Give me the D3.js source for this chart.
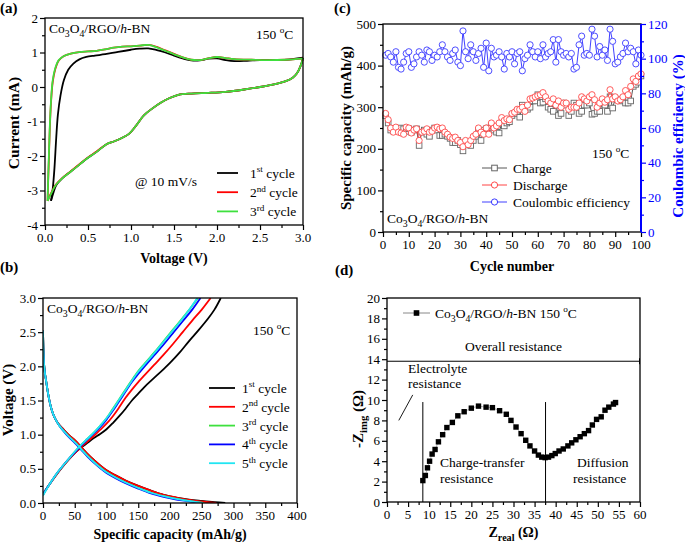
<!DOCTYPE html>
<html><head><meta charset="utf-8">
<script src="https://cdn.jsdelivr.net/npm/d3@7"></script>
<style>
body{margin:0;background:#fff;}
svg text{font-family:"Liberation Serif","Times New Roman",serif;}
</style></head><body>
<svg id="chart" width="685" height="545"></svg>
<script>
// ---------------- DATA ----------------
// (a) cyclic voltammetry  [voltage V, current mA]
const cv1Anodic = [[0.07,-3.3],[0.09,-2.95],[0.11,-2.35],[0.13,-1.5],[0.15,-0.8],[0.18,-0.25],[0.22,0.2],[0.27,0.5],[0.33,0.68],[0.4,0.8],[0.48,0.87],[0.58,0.91],[0.7,0.95],[0.85,1.02],[1.0,1.08],[1.1,1.11],[1.2,1.12],[1.3,1.07],[1.4,1.0],[1.5,0.91],[1.6,0.83],[1.7,0.77],[1.8,0.77],[1.9,0.82],[2.0,0.83],[2.1,0.78],[2.2,0.75],[2.35,0.76],[2.5,0.78],[2.7,0.78],[2.85,0.8],[3.0,0.85]];
const cv2Anodic = [[0.03,-3.3],[0.036,-2.8],[0.046,-2.0],[0.056,-1.2],[0.07,-0.45],[0.09,0.15],[0.12,0.52],[0.16,0.77],[0.22,0.9],[0.3,0.97],[0.4,1.01],[0.5,1.03],[0.6,1.05],[0.7,1.09],[0.8,1.14],[0.9,1.17],[1.0,1.18],[1.1,1.2],[1.2,1.22],[1.3,1.16],[1.4,1.06],[1.5,0.96],[1.6,0.86],[1.7,0.79],[1.8,0.78],[1.9,0.83],[2.0,0.87],[2.1,0.84],[2.2,0.81],[2.4,0.79],[2.6,0.78],[2.8,0.79],[3.0,0.82]];
const cv3Anodic = [[0.03,-3.3],[0.035,-2.8],[0.045,-2.0],[0.055,-1.2],[0.07,-0.4],[0.09,0.2],[0.12,0.55],[0.16,0.78],[0.22,0.9],[0.3,0.97],[0.4,1.01],[0.5,1.03],[0.6,1.05],[0.7,1.09],[0.8,1.14],[0.9,1.17],[1.0,1.18],[1.1,1.2],[1.2,1.22],[1.3,1.15],[1.4,1.05],[1.5,0.95],[1.6,0.86],[1.7,0.79],[1.8,0.78],[1.9,0.83],[2.0,0.87],[2.1,0.84],[2.2,0.81],[2.4,0.79],[2.6,0.78],[2.8,0.79],[3.0,0.82]];
const cv1Cathodic = [[3.0,0.85],[2.97,0.6],[2.93,0.4],[2.88,0.27],[2.8,0.17],[2.7,0.1],[2.5,0.0],[2.3,-0.08],[2.1,-0.14],[1.9,-0.17],[1.7,-0.19],[1.55,-0.23],[1.45,-0.32],[1.35,-0.45],[1.25,-0.62],[1.15,-0.82],[1.05,-1.15],[0.98,-1.35],[0.9,-1.47],[0.8,-1.58],[0.72,-1.65],[0.6,-1.88],[0.5,-2.05],[0.4,-2.25],[0.3,-2.45],[0.2,-2.65],[0.13,-2.85],[0.1,-3.05],[0.07,-3.3]];
const cv2Cathodic = [[3.0,0.82],[2.97,0.6],[2.93,0.4],[2.88,0.27],[2.8,0.17],[2.7,0.1],[2.5,0.0],[2.3,-0.08],[2.1,-0.14],[1.9,-0.17],[1.7,-0.19],[1.55,-0.23],[1.45,-0.32],[1.35,-0.45],[1.25,-0.62],[1.15,-0.82],[1.05,-1.15],[0.98,-1.35],[0.9,-1.47],[0.8,-1.58],[0.72,-1.65],[0.6,-1.87],[0.5,-2.04],[0.4,-2.24],[0.3,-2.44],[0.2,-2.64],[0.12,-2.85],[0.07,-3.08],[0.03,-3.3]];
const cv3Cathodic = [[3.0,0.82],[2.97,0.6],[2.93,0.4],[2.88,0.27],[2.8,0.17],[2.7,0.1],[2.5,0.0],[2.3,-0.08],[2.1,-0.14],[1.9,-0.17],[1.7,-0.19],[1.55,-0.23],[1.45,-0.32],[1.35,-0.45],[1.25,-0.62],[1.15,-0.82],[1.05,-1.15],[0.98,-1.35],[0.9,-1.47],[0.8,-1.58],[0.72,-1.65],[0.6,-1.88],[0.5,-2.05],[0.4,-2.25],[0.3,-2.45],[0.2,-2.65],[0.12,-2.86],[0.07,-3.1],[0.03,-3.3]];
const cvCycleNames = ["1st","2nd","3rd"];
const cvColors = ["#000000","#ff0000","#3ee03e"];
const cvXTicks = [0,0.5,1.0,1.5,2.0,2.5,3.0];
const cvYTicks = [-4,-3,-2,-1,0,1,2];

// (b) galvanostatic charge/discharge  [capacity mAh/g, voltage V]
const gd1Discharge = [[0,2.52],[0.5,2.3],[1.5,2.05],[3,1.9],[5,1.78],[8,1.6],[12,1.42],[16,1.3],[20,1.22],[25,1.15],[30,1.1],[40,1.0],[50,0.92],[60,0.82],[70,0.72],[80,0.63],[90,0.55],[100,0.48],[115,0.4],[130,0.33],[150,0.25],[170,0.18],[190,0.12],[210,0.08],[230,0.05],[250,0.03],[270,0.012],[287,0]];
const gd2Discharge = [[0,2.52],[0.5,2.3],[1.5,2.05],[3,1.9],[5,1.78],[8,1.6],[12,1.42],[16,1.3],[20,1.22],[25,1.15],[30,1.1],[40,1.0],[50,0.92],[60,0.82],[70,0.72],[80,0.63],[90,0.55],[100,0.48],[115,0.4],[130,0.33],[150,0.25],[170,0.18],[190,0.12],[210,0.08],[230,0.045],[250,0.022],[265,0.008],[273,0]];
const gd3Discharge = [[0,2.52],[0.5,2.3],[1.5,2.05],[3,1.9],[5,1.78],[8,1.6],[12,1.42],[16,1.3],[20,1.22],[25,1.14],[30,1.08],[40,0.98],[50,0.89],[60,0.79],[70,0.69],[80,0.6],[90,0.52],[100,0.45],[115,0.37],[130,0.3],[150,0.22],[170,0.15],[190,0.1],[210,0.06],[230,0.03],[245,0.01],[253,0]];
const gd4Discharge = [[0,2.52],[0.5,2.3],[1.5,2.05],[3,1.9],[5,1.78],[8,1.6],[12,1.42],[16,1.3],[20,1.22],[25,1.14],[30,1.08],[40,0.97],[50,0.88],[60,0.78],[70,0.68],[80,0.59],[90,0.51],[100,0.44],[115,0.36],[130,0.29],[150,0.21],[170,0.14],[190,0.09],[210,0.05],[230,0.025],[240,0.01],[247,0]];
const gd5Discharge = [[0,2.52],[0.5,2.3],[1.5,2.05],[3,1.9],[5,1.78],[8,1.6],[12,1.42],[16,1.3],[20,1.22],[25,1.14],[30,1.08],[40,0.98],[50,0.89],[60,0.79],[70,0.69],[80,0.6],[90,0.52],[100,0.45],[115,0.37],[130,0.3],[150,0.22],[170,0.15],[190,0.1],[210,0.06],[230,0.03],[243,0.012],[252,0]];
const gd1Charge = [[0,0.13],[5,0.2],[10,0.27],[20,0.4],[30,0.52],[40,0.63],[50,0.73],[60,0.81],[70,0.88],[80,0.95],[90,1.01],[100,1.08],[110,1.17],[120,1.27],[130,1.38],[140,1.5],[150,1.6],[160,1.7],[175,1.83],[190,1.96],[200,2.05],[215,2.2],[230,2.37],[245,2.53],[260,2.7],[270,2.83],[280,3.0]];
const gd2Charge = [[0,0.12],[5,0.2],[10,0.27],[20,0.4],[30,0.52],[40,0.63],[50,0.73],[60,0.82],[70,0.9],[80,0.98],[90,1.07],[100,1.16],[110,1.27],[120,1.4],[130,1.54],[140,1.66],[150,1.77],[160,1.87],[175,2.02],[190,2.17],[205,2.33],[220,2.5],[235,2.67],[250,2.83],[264,3.0]];
const gd3Charge = [[0,0.12],[5,0.2],[10,0.27],[20,0.41],[30,0.53],[40,0.64],[50,0.75],[60,0.85],[70,0.94],[80,1.03],[90,1.13],[100,1.24],[110,1.38],[120,1.52],[130,1.66],[140,1.8],[150,1.93],[160,2.04],[175,2.2],[190,2.37],[205,2.54],[220,2.71],[232,2.85],[244,3.0]];
const gd4Charge = [[0,0.12],[5,0.2],[10,0.27],[20,0.41],[30,0.53],[40,0.64],[50,0.74],[60,0.84],[70,0.93],[80,1.02],[90,1.11],[100,1.22],[110,1.35],[120,1.49],[130,1.63],[140,1.77],[150,1.89],[160,2.0],[175,2.16],[190,2.32],[205,2.49],[220,2.66],[235,2.83],[248,3.0]];
const gd5Charge = [[0,0.11],[5,0.19],[10,0.27],[20,0.41],[30,0.53],[40,0.64],[50,0.75],[60,0.85],[70,0.94],[80,1.03],[90,1.13],[100,1.24],[110,1.37],[120,1.51],[130,1.65],[140,1.79],[150,1.92],[160,2.03],[175,2.19],[190,2.36],[205,2.53],[220,2.7],[232,2.85],[243,3.0]];
const gdCycleNames = ["1st","2nd","3rd","4th","5th"];
const gdColors = ["#000000","#ff0000","#3ee03e","#0000ff","#22e5f2"];
const gdXTicks = [0,50,100,150,200,250,300,350,400];
const gdYTicks = [0,0.5,1.0,1.5,2.0,2.5,3.0];

// (c) cycling performance
const cycleNumbers = d3.range(1, 101);
const chargeCapacity = [280,262,245,243,248,245,250,248,242,248, 240,245,248,208,240,245,235,230,245,250, 245,232,232,235,230,225,215,215,220,210, 195,215,210,208,220,230,240,220,245,248, 250,255,245,240,238,262,255,262,265,280, 285,290,276,305,295,295,300,315,315,330, 310,312,320,300,295,290,305,280,285,310, 305,280,290,310,305,285,290,305,305,310, 283,285,290,290,310,305,290,325,298,320, 318,315,320,310,310,315,350,355,360,375];
const dischargeCapacity = [285,270,250,240,252,240,238,235,252,250, 238,245,248,220,240,242,248,240,242,250, 252,248,250,240,235,228,225,228,220,215, 205,220,210,220,230,235,250,240,235,250, 235,262,250,255,262,275,268,272,270,285, 288,295,295,300,290,305,320,322,325,328, 330,335,325,315,310,320,305,315,300,310, 310,295,300,300,300,310,325,320,315,325, 330,318,300,310,320,312,318,342,320,325, 315,318,325,340,330,350,368,362,375,380];
const coulombicEfficiency = [102,103,101,98,104,95,94,98,103,104, 95,97,101,104,102,98,105,104,99,102, 101,104,108,104,101,99,103,105,98,96, 116,104,100,108,104,99,103,106,95,109, 93,106,101,102,104,101,94,103,101,104, 97,103,104,93,100,102,108,104,101,104, 100,108,101,103,104,111,98,111,104,102, 103,101,103,94,95,108,113,102,103,102, 117,113,101,107,102,105,99,117,110,97, 98,101,103,109,104,106,104,97,105,102];
const cycXTicks = [0,10,20,30,40,50,60,70,80,90,100];
const capYTicks = [0,100,200,300,400,500];
const ceYTicks = [0,20,40,60,80,100,120];

// (d) Nyquist plot
const zReal = [8.5,9.1,9.6,10.1,10.7,11.4,12.2,13.2,14.2,15.5,16.8,18.3,20.0,21.7,23.5,25.0,26.7,28.3,29.4,30.6,31.8,32.9,33.9,35.0,35.9,36.7,37.5,38.3,39.1,39.9,40.8,41.8,42.9,43.8,44.8,45.8,46.8,47.8,48.7,49.7,50.8,51.7,52.6,53.7,54.2];
const zImg  = [2.1,2.6,3.35,4.0,4.7,5.15,5.9,6.6,7.3,7.8,8.45,8.85,9.2,9.4,9.3,9.25,8.95,8.6,8.0,7.35,6.7,6.05,5.5,5.0,4.6,4.4,4.35,4.4,4.55,4.75,5.0,5.2,5.5,5.8,6.1,6.4,6.7,7.0,7.55,8.1,8.35,9.0,9.3,9.6,9.75];
const zXTicks = [0,5,10,15,20,25,30,35,40,45,50,55,60];
const zYTicks = [0,2,4,6,8,10,12,14,16,18,20];
const electrolyteR = 8.5, chargeTransferEnd = 37.6, overallLevel = 13.8;

// ---------------- HELPERS ----------------
const svg = d3.select("#chart");
const TICK = 13, LAB = 14, ANN = 13.5;

function rich(t, parts, size) {
  let off = 0;
  parts.forEach(p => {
    const [txt, kind] = Array.isArray(p) ? p : [p, "n"];
    const ts = t.append("tspan").text(txt);
    let target = 0, fs = size;
    if (kind === "sub") { target = size * 0.28; fs = size * 0.72; }
    if (kind === "sup") { target = -size * 0.42; fs = size * 0.68; }
    if (kind === "i") ts.attr("font-style", "italic");
    ts.attr("font-size", fs);
    if (target !== off) { ts.attr("dy", target - off); off = target; }
  });
  return t;
}
function txt(g, x, y, parts, size, o = {}) {
  const t = g.append("text").attr("x", x).attr("y", y).attr("font-size", size)
    .attr("fill", o.fill || "#000");
  if (o.weight) t.attr("font-weight", o.weight);
  if (o.anchor) t.attr("text-anchor", o.anchor);
  return rich(t, parts, size);
}
function vtxt(g, x, y, parts, size, o = {}) {
  const t = g.append("text").attr("transform", `translate(${x},${y}) rotate(-90)`)
    .attr("text-anchor", "middle").attr("font-size", size).attr("fill", o.fill || "#000")
    .attr("font-weight", o.weight || "bold");
  return rich(t, parts, size);
}
const sample = [["Co"],["3","sub"],["O"],["4","sub"],["/RGO/"],["h","i"],["-BN"]];
const deg150 = [["150 "],["o","sup"],["C"]];

function panel(box, xDom, yDom) {
  const g = svg.append("g").attr("transform", `translate(${box.l},${box.t})`);
  const w = box.r - box.l, h = box.b - box.t;
  const x = d3.scaleLinear().domain(xDom).range([0, w]);
  const y = d3.scaleLinear().domain(yDom).range([h, 0]);
  return {g, x, y, w, h};
}
function minorVals(ticks) {
  const out = [];
  for (let i = 0; i < ticks.length - 1; i++) out.push((ticks[i] + ticks[i + 1]) / 2);
  return out;
}
function axes(P, xt, xf, yt, yf, color = "#000") {
  const {g, x, y, w, h} = P;
  const style = s => { s.select(".domain").remove(); s.selectAll("line").attr("stroke", "#000").attr("stroke-width", 1.2); s.selectAll("text").remove(); };
  g.append("g").attr("transform", `translate(0,${h})`).call(d3.axisBottom(x).tickValues(xt).tickSize(5)).call(style);
  g.append("g").attr("transform", `translate(0,${h})`).call(d3.axisBottom(x).tickValues(minorVals(xt)).tickSize(3)).call(style);
  g.append("g").call(d3.axisLeft(y).tickValues(yt).tickSize(5)).call(style);
  g.append("g").call(d3.axisLeft(y).tickValues(minorVals(yt)).tickSize(3)).call(style);
  xt.forEach(v => txt(g, x(v), h + 17, [xf(v)], TICK, {anchor: "middle"}));
  yt.forEach(v => txt(g, -7, y(v) + 4.5, [yf(v)], TICK, {anchor: "end"}));
}
function frame(P) {
  P.g.append("rect").attr("width", P.w).attr("height", P.h).attr("fill", "none")
    .attr("stroke", "#000").attr("stroke-width", 1.3);
}
const f1 = d3.format(".1f"), f0 = d => String(d);
const smooth = d3.line().curve(d3.curveCatmullRom.alpha(0.5));

// ---------------- PANEL (a) ----------------
{
  const P = panel({l:45, r:303, t:18, b:225}, [0, 3], [-4, 2]);
  const line = smooth.x(d => P.x(d[0])).y(d => P.y(d[1]));
  const sets = [[cv1Anodic, cv1Cathodic], [cv2Anodic, cv2Cathodic], [cv3Anodic, cv3Cathodic]];
  sets.forEach((s, i) => {
    s.forEach(arr => P.g.append("path").attr("d", line(arr)).attr("fill", "none")
      .attr("stroke", cvColors[i]).attr("stroke-width", 1.8));
  });
  frame(P);
  axes(P, cvXTicks, f1, cvYTicks, f0);
  txt(P.g, 4, 15, sample, ANN);
  txt(P.g, 211, 21, deg150, ANN);
  txt(P.g, 90, 168, ["@ 10 mV/s"], ANN);
  cvCycleNames.forEach((n, i) => {
    const yy = 155 + i * 19.2;
    P.g.append("line").attr("x1", 172).attr("x2", 193).attr("y1", yy).attr("y2", yy)
      .attr("stroke", cvColors[i]).attr("stroke-width", 1.8);
    txt(P.g, 205, yy + 5, [[n.slice(0, 1)], [n.slice(1), "sup"], [" cycle"]], ANN);
  });
  txt(P.g, P.w / 2, 245, ["Voltage (V)"], LAB, {anchor: "middle", weight: "bold"});
  vtxt(svg, 19, 123, ["Current (mA)"], 15.5);
  txt(svg, 0, 13, ["(a)"], 15, {weight: "bold"});
}

// ---------------- PANEL (b) ----------------
{
  const P = panel({l:43, r:297, t:298, b:503}, [0, 400], [0, 3]);
  const line = smooth.x(d => P.x(d[0])).y(d => P.y(d[1]));
  const dis = [gd1Discharge, gd2Discharge, gd3Discharge, gd4Discharge, gd5Discharge];
  const chg = [gd1Charge, gd2Charge, gd3Charge, gd4Charge, gd5Charge];
  const clip = P.g.append("clipPath").attr("id", "clipb").append("rect").attr("width", P.w).attr("height", P.h);
  const cg = P.g.append("g").attr("clip-path", "url(#clipb)");
  [0, 1, 2, 3, 4].forEach(i => {
    [dis[i], chg[i]].forEach(arr => cg.append("path").attr("d", line(arr)).attr("fill", "none")
      .attr("stroke", gdColors[i]).attr("stroke-width", 1.8));
  });
  frame(P);
  axes(P, gdXTicks, f0, gdYTicks, f1);
  txt(P.g, 4, 15, sample, ANN);
  txt(P.g, 210, 37, deg150, ANN);
  gdCycleNames.forEach((n, i) => {
    const yy = 90 + i * 18.8;
    P.g.append("line").attr("x1", 166).attr("x2", 192).attr("y1", yy).attr("y2", yy)
      .attr("stroke", gdColors[i]).attr("stroke-width", 1.8);
    txt(P.g, 199, yy + 5, [[n.slice(0, 1)], [n.slice(1), "sup"], [" cycle"]], ANN);
  });
  txt(P.g, P.w / 2, 241, ["Specific capacity (mAh/g)"], LAB, {anchor: "middle", weight: "bold"});
  vtxt(svg, 13, 400, ["Voltage (V)"], 15);
  txt(svg, 0, 272, ["(b)"], 15, {weight: "bold"});
}

// ---------------- PANEL (c) ----------------
{
  const P = panel({l:383, r:641, t:24, b:232}, [0, 100], [0, 500]);
  const yR = d3.scaleLinear().domain([0, 120]).range([P.h, 0]);
  const lin = d3.line();
  // charge
  P.g.append("path").attr("d", lin(cycleNumbers.map((c, i) => [P.x(c), P.y(chargeCapacity[i])])))
    .attr("fill", "none").attr("stroke", "#444").attr("stroke-width", 0.9);
  P.g.selectAll(".sq").data(cycleNumbers).enter().append("rect")
    .attr("x", (c) => P.x(c) - 2.8).attr("y", (c, i) => P.y(chargeCapacity[i]) - 2.8)
    .attr("width", 5.6).attr("height", 5.6).attr("fill", "#fff").attr("stroke", "#666").attr("stroke-width", 0.9);
  // discharge
  P.g.append("path").attr("d", lin(cycleNumbers.map((c, i) => [P.x(c), P.y(dischargeCapacity[i])])))
    .attr("fill", "none").attr("stroke", "#ff3030").attr("stroke-width", 0.9);
  P.g.selectAll(".dc").data(cycleNumbers).enter().append("circle")
    .attr("cx", c => P.x(c)).attr("cy", (c, i) => P.y(dischargeCapacity[i])).attr("r", 3.1)
    .attr("fill", "#fff").attr("stroke", "#ff4a4a").attr("stroke-width", 0.9);
  // CE
  P.g.append("path").attr("d", lin(cycleNumbers.map((c, i) => [P.x(c), yR(coulombicEfficiency[i])])))
    .attr("fill", "none").attr("stroke", "#2a2aff").attr("stroke-width", 0.9);
  P.g.selectAll(".ce").data(cycleNumbers).enter().append("circle")
    .attr("cx", c => P.x(c)).attr("cy", (c, i) => yR(coulombicEfficiency[i])).attr("r", 3.1)
    .attr("fill", "#fff").attr("stroke", "#3a3aff").attr("stroke-width", 0.9);
  frame(P);
  axes(P, cycXTicks, f0, capYTicks, f0);
  // right axis (blue)
  const ra = P.g.append("g").attr("transform", `translate(${P.w},0)`);
  const st = s => { s.select(".domain").remove(); s.selectAll("line").attr("stroke", "#0000ff").attr("stroke-width", 1.2); s.selectAll("text").remove(); };
  ra.append("g").call(d3.axisRight(yR).tickValues(ceYTicks).tickSize(5)).call(st);
  ra.append("g").call(d3.axisRight(yR).tickValues(minorVals(ceYTicks)).tickSize(3)).call(st);
  ra.append("line").attr("x1", 0).attr("x2", 0).attr("y1", 0).attr("y2", P.h).attr("stroke", "#0000ff").attr("stroke-width", 2);
  ceYTicks.forEach(v => txt(ra, 7, yR(v) + 4.5, [f0(v)], TICK, {fill: "#0000ff"}));
  txt(P.g, 209, 134, deg150, ANN);
  const leg = [
    {name: "Charge", col: "#444", mk: "sq", mcol: "#666"},
    {name: "Discharge", col: "#ff3030", mk: "c", mcol: "#ff4a4a"},
    {name: "Coulombic efficiency", col: "#2a2aff", mk: "c", mcol: "#3a3aff"}];
  leg.forEach((d, i) => {
    const yy = 144 + i * 17;
    P.g.append("line").attr("x1", 99).attr("x2", 124).attr("y1", yy).attr("y2", yy).attr("stroke", d.col).attr("stroke-width", 0.9);
    if (d.mk === "sq") P.g.append("rect").attr("x", 111.5 - 2.8).attr("y", yy - 2.8).attr("width", 5.6).attr("height", 5.6).attr("fill", "#fff").attr("stroke", d.mcol);
    else P.g.append("circle").attr("cx", 111.5).attr("cy", yy).attr("r", 3.1).attr("fill", "#fff").attr("stroke", d.mcol);
    txt(P.g, 130, yy + 5, [d.name], ANN);
  });
  txt(P.g, 4, 199, sample, ANN);
  txt(P.g, P.w / 2, 247, ["Cycle number"], LAB, {anchor: "middle", weight: "bold"});
  vtxt(svg, 351, 128, ["Specific capacity (mAh/g)"], 15);
  vtxt(svg, 683, 136, ["Coulombic efficiency (%)"], 15, {fill: "#0000ff"});
  txt(svg, 334, 13, ["(c)"], 15, {weight: "bold"});
}

// ---------------- PANEL (d) ----------------
{
  const P = panel({l:387, r:640, t:298, b:502}, [0, 60], [0, 20]);
  frame(P);
  axes(P, zXTicks, f0, zYTicks, f0);
  const g = P.g;
  // overall resistance line
  g.append("line").attr("x1", P.x(0)).attr("x2", P.x(60)).attr("y1", P.y(overallLevel)).attr("y2", P.y(overallLevel))
    .attr("stroke", "#000").attr("stroke-width", 1);
  g.append("line").attr("x1", P.x(60) - 0.5).attr("x2", P.x(60) - 0.5).attr("y1", P.y(overallLevel) - 3).attr("y2", P.y(overallLevel) + 3).attr("stroke", "#000");
  // vertical separators
  [electrolyteR, chargeTransferEnd].forEach(v => g.append("line").attr("x1", P.x(v)).attr("x2", P.x(v))
    .attr("y1", P.y(0)).attr("y2", P.y(9.8)).attr("stroke", "#000").attr("stroke-width", 1));
  // pointer
  g.append("line").attr("x1", P.x(2.8)).attr("y1", P.y(8.0)).attr("x2", P.x(6.1)).attr("y2", P.y(10.5)).attr("stroke", "#000").attr("stroke-width", 0.9);
  // data
  g.append("path").attr("d", d3.line()(zReal.map((v, i) => [P.x(v), P.y(zImg[i])]))).attr("fill", "none").attr("stroke", "#888").attr("stroke-width", 0.6);
  g.selectAll(".pt").data(zReal).enter().append("rect")
    .attr("x", v => P.x(v) - 2.7).attr("y", (v, i) => P.y(zImg[i]) - 2.7).attr("width", 5.4).attr("height", 5.4).attr("fill", "#000");
  // legend
  g.append("line").attr("x1", 16).attr("x2", 43).attr("y1", 15).attr("y2", 15).attr("stroke", "#888").attr("stroke-width", 1);
  g.append("rect").attr("x", 29.5 - 2.8).attr("y", 15 - 2.8).attr("width", 5.6).attr("height", 5.6).attr("fill", "#000");
  txt(g, 48, 20, [...sample, [" 150 "], ["o", "sup"], ["C"]], ANN);
  txt(g, P.x(30), 53, ["Overall resistance"], ANN, {anchor: "middle"});
  txt(g, 21, 75, ["Electrolyte"], ANN);
  txt(g, 21, 90, ["resistance"], ANN);
  txt(g, 53, 169, ["Charge-transfer"], ANN);
  txt(g, 53, 185, ["resistance"], ANN);
  txt(g, 190, 169, ["Diffusion"], ANN);
  txt(g, 186, 185, ["resistance"], ANN);
  // axis titles
  const xl = g.append("text").attr("x", P.w / 2).attr("y", 239).attr("text-anchor", "middle").attr("font-size", LAB).attr("font-weight", "bold");
  rich(xl, [["Z"], ["real", "sub"], [" (Ω)"]], LAB);
  vtxt(svg, 363, 419, [["-Z"], ["img", "sub"], [" (Ω)"]], 15);
  txt(svg, 335, 275, ["(d)"], 15, {weight: "bold"});
}
</script>
</body></html>
